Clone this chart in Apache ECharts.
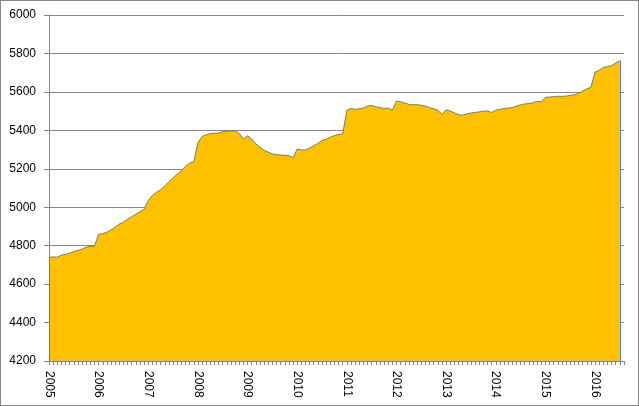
<!DOCTYPE html>
<html><head><meta charset="utf-8">
<script src="https://cdn.jsdelivr.net/npm/echarts@6/dist/echarts.min.js"></script>
<style>
html,body{margin:0;padding:0;background:#fff}
#c{width:639px;height:406px;position:absolute;left:0;top:0}
#frame{position:absolute;left:0;top:0;width:639px;height:406px;box-sizing:border-box;border:1px solid #868686;pointer-events:none}
</style>
</head><body><div id="c"></div><div id="frame"></div>
<script>
const years = ['2005','2006','2007','2008','2009','2010','2011','2012','2013','2014','2015','2016'];
const yTicks = { min: 4200, max: 6000, interval: 200 };
const values = [
  4738, 4742, 4740, 4751, 4754, 4761, 4770, 4775, 4782, 4792, 4797, 4797,
  4860, 4862, 4870, 4882, 4896, 4913, 4922, 4938, 4951, 4964, 4977, 4990,
  5035, 5062, 5078, 5091, 5111, 5133, 5152, 5173, 5189, 5213, 5229, 5238,
  5335, 5368, 5377, 5383, 5384, 5386, 5393, 5395, 5397, 5397, 5384, 5355,
  5372, 5355, 5329, 5312, 5296, 5286, 5278, 5273, 5272, 5270, 5268, 5258,
  5303, 5298, 5298, 5308, 5320, 5332, 5348, 5353, 5364, 5373, 5379, 5381,
  5504, 5514, 5509, 5512, 5516, 5526, 5530, 5523, 5518, 5514, 5516, 5505,
  5552, 5549, 5542, 5535, 5533, 5533, 5531, 5526, 5518, 5512, 5505, 5483,
  5507, 5500, 5491, 5481, 5479, 5486, 5490, 5493, 5496, 5500, 5500, 5493,
  5505, 5509, 5514, 5516, 5518, 5526, 5533, 5537, 5540, 5543, 5551, 5549,
  5571, 5573, 5575, 5577, 5577, 5578, 5582, 5585, 5592, 5604, 5615, 5625,
  5703, 5712, 5727, 5732, 5736, 5751, 5762
];
const categories = [];
years.forEach(y => { for (let m = 1; m <= 12; m++) categories.push(y + '-' + (m < 10 ? '0' : '') + m); });
const cats = categories.slice(0, values.length + 1);
const seriesData = values.concat([null]);
const last = values.length - 1;

const chart = echarts.init(document.getElementById('c'), null, { renderer: 'canvas' });
const font = { fontFamily: 'Liberation Sans', fontSize: 12, color: '#000' };
chart.setOption({
  animation: false,
  grid: { left: 49, right: 15, top: 15, bottom: 45, containLabel: false, outerBoundsMode: 'none' },
  xAxis: {
    type: 'category',
    data: cats,
    boundaryGap: false,
    axisLine: { lineStyle: { color: '#868686', width: 1 } },
    axisTick: { show: true, interval: 0, length: 4, lineStyle: { color: '#868686' } },
    axisLabel: Object.assign({ interval: 11, rotate: -90, margin: 10, formatter: v => v.slice(0, 4) }, font),
    splitLine: { show: false }
  },
  yAxis: {
    type: 'value',
    min: yTicks.min, max: yTicks.max, interval: yTicks.interval,
    axisLine: { show: true, lineStyle: { color: '#868686', width: 1 } },
    axisTick: { show: true, length: 5, lineStyle: { color: '#868686' } },
    axisLabel: Object.assign({ margin: 13, formatter: v => String(v) }, font),
    splitLine: { show: true, lineStyle: { color: '#868686', width: 1 } }
  },
  series: [{
    type: 'line',
    data: seriesData,
    symbol: 'none',
    connectNulls: false,
    lineStyle: { color: '#4F81BD', width: 1 },
    itemStyle: { color: '#4F81BD' },
    areaStyle: { color: '#FFC000', opacity: 1 },
    markLine: {
      silent: true,
      symbol: ['none', 'none'],
      label: { show: false },
      lineStyle: { color: '#4F81BD', width: 1, type: 'solid' },
      data: [
        [{ coord: [0, yTicks.min] }, { coord: [0, values[0]] }],
        [{ coord: [last, yTicks.min] }, { coord: [last, values[last]] }]
      ]
    }
  }]
});
</script>
</body></html>
